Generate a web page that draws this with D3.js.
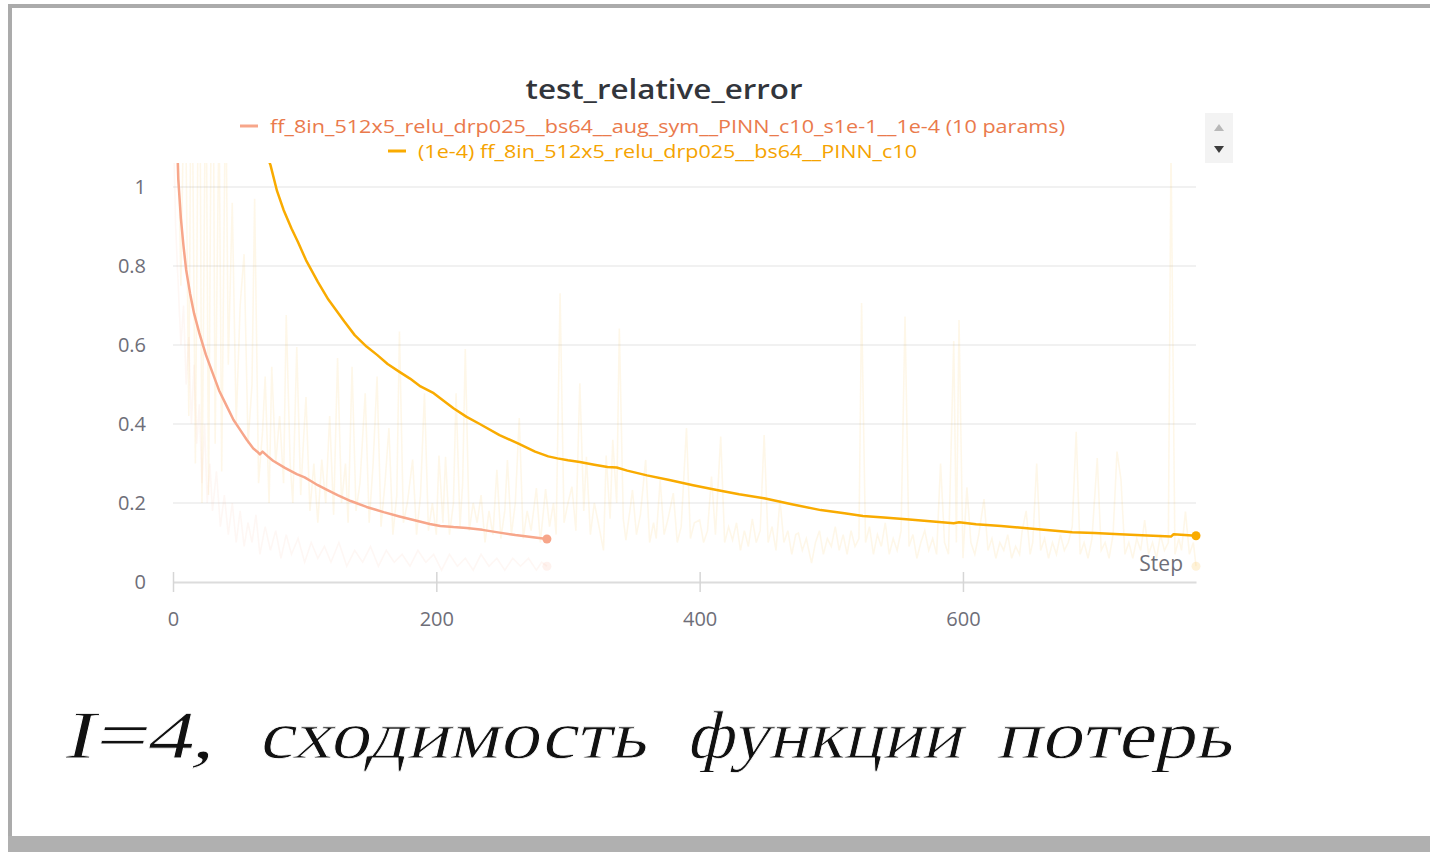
<!DOCTYPE html>
<html>
<head>
<meta charset="utf-8">
<script src="https://cdn.jsdelivr.net/npm/d3@7"></script>
<style>
  html, body { margin: 0; padding: 0; background: #fff; }
  svg { display: block; }
</style>
</head>
<body>
<svg id="chart" width="1430" height="852"></svg>
<script>
// ---------------- DATA ----------------
const chartTitle = "test_relative_error";
const seriesNames = [
  "ff_8in_512x5_relu_drp025__bs64__aug_sym__PINN_c10_s1e-1__1e-4 (10 params)",
  "(1e-4) ff_8in_512x5_relu_drp025__bs64__PINN_c10"
];
const captionWords = ["I=4,", "сходимость", "функции", "потерь"];
const xTicks = [0, 200, 400, 600];
const yTicks = [0, 0.2, 0.4, 0.6, 0.8, 1];
const xLabel = "Step";

// smoothed series 1 (salmon)
const salmonSteps = [2,4,6,8,10,13,16,20,25,30,35,41,46,51,56,61,64,66,68,72,76,85,94,100,105,110,117,125,135,147,160,172,185,195,203,213,223,235,248,260,272,284];
const salmonVals  = [1.25,1.02,0.92,0.85,0.79,0.73,0.68,0.63,0.575,0.53,0.485,0.444,0.41,0.385,0.36,0.338,0.33,0.323,0.33,0.318,0.307,0.289,0.273,0.265,0.255,0.245,0.233,0.22,0.205,0.19,0.177,0.166,0.155,0.147,0.142,0.139,0.137,0.132,0.125,0.119,0.114,0.109];

// smoothed series 2 (orange)
const orangeSteps = [70,74,79,84,90,95,101,110,118,122,130,138,147,155,163,172,180,188,198,205,213,223,233,248,262,275,285,292,300,309,320,330,337,345,360,377,395,413,430,449,470,492,510,524,540,557,575,593,597,610,629,655,683,700,719,740,758,760,777];
const orangeVals  = [1.09,1.056,0.99,0.942,0.895,0.86,0.815,0.76,0.715,0.697,0.66,0.625,0.596,0.575,0.552,0.532,0.515,0.495,0.478,0.46,0.44,0.418,0.40,0.372,0.351,0.33,0.318,0.313,0.308,0.304,0.297,0.291,0.29,0.282,0.27,0.258,0.245,0.233,0.222,0.212,0.197,0.182,0.174,0.167,0.163,0.159,0.154,0.149,0.151,0.146,0.142,0.134,0.126,0.124,0.121,0.118,0.115,0.121,0.117];

// raw (unsmoothed, faint) series 1
const salmonRawSteps = [0,2,4,6,8,10,12,14,16,18,20,22,24,26,28,30,33,36,39,42,45,48,51,54,57,60,63,66,70,74,78,82,86,90,95,100,105,110,115,120,126,132,138,144,150,156,162,168,174,180,186,192,198,204,210,216,222,228,234,240,246,252,258,264,270,276,280,284];
const salmonRawVals  = [1.2,0.9,0.75,0.6,0.7,0.5,0.62,0.4,0.55,0.35,0.45,0.25,0.4,0.2,0.3,0.18,0.28,0.14,0.22,0.12,0.2,0.1,0.18,0.09,0.15,0.1,0.17,0.07,0.14,0.08,0.13,0.06,0.12,0.07,0.11,0.05,0.1,0.06,0.09,0.05,0.1,0.04,0.08,0.05,0.09,0.04,0.08,0.05,0.07,0.04,0.08,0.05,0.07,0.03,0.07,0.04,0.06,0.03,0.07,0.04,0.06,0.03,0.06,0.04,0.06,0.03,0.05,0.04];

// raw (unsmoothed, faint) series 2
const orangeRawSteps = [0,3,6,9,12,14,17,20,22,25,27,30,32,35,37,40,42,45,48,51,54,57,60,62,65,68,70,73,75,78,81,84,86,89,91,94,97,99,101,104,107,110,113,116,119,122,125,128,131,133,136,139,142,146,149,152,155,158,161,164,167,170,172,175,178,182,185,188,191,194,197,200,202,205,207,210,213,215,218,220,222,225,228,231,234,237,240,243,246,249,252,254,257,260,263,266,269,272,276,279,283,286,289,291,294,297,300,303,306,309,312,314,317,320,323,327,329,332,334,337,339,342,344,347,349,352,355,359,362,365,367,370,373,376,380,383,386,390,393,396,400,403,406,409,412,416,419,422,425,428,431,434,437,440,443,446,449,452,455,458,461,464,467,470,473,475,478,481,485,488,491,494,497,500,503,506,509,512,515,518,521,523,526,529,532,535,538,541,544,547,550,553,556,559,562,565,568,571,574,577,580,583,586,589,593,595,597,600,603,606,609,612,616,619,622,625,628,631,634,637,640,643,645,648,651,653,656,659,662,665,668,671,674,677,680,683,686,689,692,695,698,702,705,708,711,714,717,720,723,726,729,732,735,738,741,744,747,750,753,756,758,761,764,766,769,772,775,777];
const orangeRawVals  = [1.6,1.3,0.75,1.4,0.42,1.5,0.3,1.6,0.2,1.4,0.22,1.7,0.35,1.2,0.28,1.3,0.55,0.96,0.4,0.7,0.83,0.35,0.5,0.97,0.25,0.38,0.52,0.2,0.545,0.3,0.42,0.25,0.676,0.3,0.2,0.595,0.22,0.35,0.468,0.18,0.3,0.15,0.31,0.2,0.42,0.17,0.567,0.2,0.3,0.15,0.545,0.18,0.25,0.478,0.15,0.3,0.52,0.14,0.25,0.39,0.12,0.22,0.634,0.15,0.2,0.31,0.12,0.22,0.478,0.13,0.2,0.12,0.32,0.15,0.317,0.12,0.2,0.478,0.14,0.25,0.59,0.13,0.2,0.15,0.22,0.1,0.18,0.12,0.284,0.11,0.18,0.309,0.12,0.2,0.415,0.11,0.18,0.13,0.238,0.1,0.235,0.14,0.2,0.12,0.731,0.15,0.2,0.241,0.13,0.503,0.18,0.317,0.12,0.2,0.15,0.08,0.32,0.16,0.36,0.2,0.642,0.16,0.106,0.18,0.233,0.12,0.17,0.309,0.1,0.15,0.11,0.258,0.12,0.16,0.225,0.1,0.14,0.39,0.11,0.15,0.157,0.1,0.13,0.267,0.12,0.368,0.1,0.14,0.106,0.15,0.08,0.13,0.09,0.16,0.1,0.13,0.372,0.1,0.14,0.08,0.208,0.1,0.13,0.07,0.12,0.124,0.08,0.11,0.048,0.1,0.13,0.07,0.11,0.09,0.14,0.08,0.12,0.07,0.13,0.09,0.11,0.706,0.1,0.14,0.07,0.12,0.09,0.15,0.07,0.11,0.08,0.13,0.672,0.09,0.12,0.06,0.1,0.13,0.08,0.11,0.07,0.30,0.1,0.07,0.61,0.1,0.663,0.06,0.24,0.1,0.07,0.12,0.21,0.08,0.11,0.06,0.1,0.08,0.12,0.06,0.09,0.07,0.13,0.18,0.07,0.1,0.30,0.08,0.11,0.06,0.1,0.07,0.12,0.08,0.1,0.14,0.38,0.07,0.1,0.06,0.11,0.314,0.08,0.1,0.06,0.12,0.33,0.26,0.07,0.1,0.06,0.11,0.08,0.157,0.07,0.1,0.06,0.12,0.08,0.1,1.1,0.07,0.11,0.08,0.178,0.07,0.1,0.04];

// ---------------- DRAW ----------------
const svg = d3.select("#chart");
const C = { salmon: "#f7a68a", salmonText: "#ea7a4c", orange: "#f9ab00", orangeText: "#f5a300" };

// frame (screenshot border)
svg.append("rect").attr("x", 8).attr("y", 4).attr("width", 1422).attr("height", 4).attr("fill", "#ababab");
svg.append("rect").attr("x", 8).attr("y", 4).attr("width", 4).attr("height", 848).attr("fill", "#ababab");
svg.append("rect").attr("x", 8).attr("y", 836).attr("width", 1422).attr("height", 16).attr("fill", "#b0b0b0");

const x = d3.scaleLinear().domain([0, 777]).range([173, 1196]);
const y = d3.scaleLinear().domain([0, 1]).range([582, 187]);

// grid lines
svg.append("g").selectAll("line").data(yTicks.filter(d => d > 0)).join("line")
  .attr("x1", 173).attr("x2", 1196)
  .attr("y1", d => y(d)).attr("y2", d => y(d))
  .attr("stroke", "#ececec").attr("stroke-width", 1.5);

// y tick labels
svg.append("g").selectAll("text").data(yTicks).join("text")
  .attr("x", 146).attr("y", d => y(d)).attr("dy", "0.35em")
  .attr("text-anchor", "end")
  .attr("font-family", "'Open Sans', sans-serif").attr("font-size", 20)
  .attr("fill", "#6e6e78")
  .text(d => d3.format("~g")(d));

// x axis
const xAxisG = svg.append("g").attr("transform", "translate(0,582)")
  .call(d3.axisBottom(x).tickValues(xTicks).tickSize(10).tickSizeOuter(0).tickPadding(20).tickFormat(d3.format("d")));
xAxisG.select(".domain").attr("stroke", "#dcdcdc").attr("stroke-width", 2);
xAxisG.selectAll(".tick line").attr("stroke", "#d6d6d6").attr("stroke-width", 1.5).attr("y1", -10);
xAxisG.selectAll(".tick text").attr("font-family", "'Open Sans', sans-serif").attr("font-size", 20).attr("fill", "#6e6e78");

// clip
svg.append("clipPath").attr("id", "plotclip").append("rect")
  .attr("x", 168).attr("y", 163).attr("width", 1040).attr("height", 420);
const plot = svg.append("g").attr("clip-path", "url(#plotclip)");

const line = d3.line().x(d => x(d[0])).y(d => y(d[1]));
const zip = (a, b) => a.map((s, i) => [s, b[i]]);

plot.append("path").datum(zip(orangeRawSteps, orangeRawVals)).attr("d", line)
  .attr("fill", "none").attr("stroke", C.orange).attr("stroke-opacity", 0.09).attr("stroke-width", 1.6);
plot.append("path").datum(zip(salmonRawSteps, salmonRawVals)).attr("d", line)
  .attr("fill", "none").attr("stroke", C.salmon).attr("stroke-opacity", 0.09).attr("stroke-width", 1.6);

plot.append("path").datum(zip(salmonSteps, salmonVals)).attr("d", line)
  .attr("fill", "none").attr("stroke", C.salmon).attr("stroke-width", 2.5).attr("stroke-linejoin", "round");
plot.append("path").datum(zip(orangeSteps, orangeVals)).attr("d", line)
  .attr("fill", "none").attr("stroke", C.orange).attr("stroke-width", 2.5).attr("stroke-linejoin", "round");

// end dots
const lastS = salmonSteps.length - 1, lastO = orangeSteps.length - 1;
svg.append("circle").attr("cx", x(salmonRawSteps[salmonRawSteps.length-1])).attr("cy", y(salmonRawVals[salmonRawVals.length-1]))
  .attr("r", 4.5).attr("fill", C.salmon).attr("fill-opacity", 0.15);
svg.append("circle").attr("cx", x(orangeRawSteps[orangeRawSteps.length-1])).attr("cy", y(orangeRawVals[orangeRawVals.length-1]))
  .attr("r", 4.5).attr("fill", C.orange).attr("fill-opacity", 0.15);
svg.append("circle").attr("cx", x(salmonSteps[lastS])).attr("cy", y(salmonVals[lastS])).attr("r", 4.5).attr("fill", C.salmon);
svg.append("circle").attr("cx", x(orangeSteps[lastO])).attr("cy", y(orangeVals[lastO])).attr("r", 4.5).attr("fill", C.orange);

// "Step" label
svg.append("text").attr("x", 1183).attr("y", 571).attr("text-anchor", "end")
  .attr("font-family", "'Open Sans', sans-serif").attr("font-size", 21).attr("fill", "#6e6e78").text(xLabel);

// title
svg.append("text").attr("x", 664).attr("y", 99).attr("text-anchor", "middle")
  .attr("font-family", "'Open Sans', sans-serif").attr("font-weight", 600).attr("font-size", 27)
  .attr("fill", "#32353b").attr("textLength", 277).attr("lengthAdjust", "spacingAndGlyphs").text(chartTitle);

// legend
const legend = [
  { dashX: 240, textX: 270, y: 126, w: 795, c: C.salmon, tc: C.salmonText },
  { dashX: 388, textX: 418, y: 151, w: 499, c: C.orange, tc: C.orangeText }
];
legend.forEach((L, i) => {
  svg.append("line").attr("x1", L.dashX).attr("x2", L.dashX + 18).attr("y1", L.y).attr("y2", L.y)
    .attr("stroke", L.c).attr("stroke-width", 3);
  svg.append("text").attr("x", L.textX).attr("y", L.y).attr("dy", "0.35em")
    .attr("font-family", "'Open Sans', sans-serif").attr("font-size", 19).attr("fill", L.tc)
    .attr("textLength", L.w).attr("lengthAdjust", "spacingAndGlyphs").text(seriesNames[i]);
});

// legend scroll widget
svg.append("rect").attr("x", 1205).attr("y", 113).attr("width", 28).attr("height", 50).attr("fill", "#f3f3f3");
svg.append("path").attr("d", "M1214,131 L1224,131 L1219,124 Z").attr("fill", "#b8b8b8");
svg.append("path").attr("d", "M1214,146 L1224,146 L1219,153 Z").attr("fill", "#3c3c3c");

// caption (word by word, slanted typewriter-like serif, slightly thinned strokes)
const capLayout = [[62, 152], [258, 388], [686, 275], [996, 236]];
const capG = svg.append("g");
captionWords.forEach((w, i) => {
  capG.append("text")
    .attr("transform", `translate(${capLayout[i][0]},758) skewX(-13)`)
    .attr("x", 0).attr("y", 0)
    .attr("font-family", "'Liberation Serif', 'DejaVu Serif', serif")
    .attr("font-size", 68).attr("fill", "#111")
    .attr("stroke", "#fff").attr("stroke-width", 0.8)
    .attr("textLength", capLayout[i][1]).attr("lengthAdjust", "spacingAndGlyphs")
    .text(w);
});
</script>
</body>
</html>
